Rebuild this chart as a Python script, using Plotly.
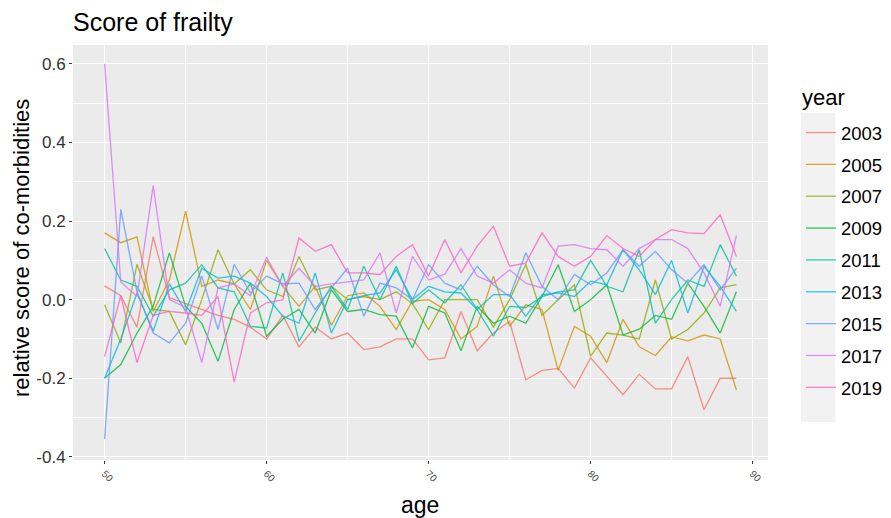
import plotly.graph_objects as go

ages = list(range(50, 90))
years = ["2003", "2005", "2007", "2009", "2011", "2013", "2015", "2017", "2019"]
colors = ["#F8766D", "#D39200", "#93AA00", "#00BA38", "#00C19F",
          "#00B9E3", "#619CFF", "#DB72FB", "#FF61C3"]

y2003 = [0.035, 0.01, -0.07, 0.16, 0.005, -0.01, -0.025, -0.04, -0.05, -0.07,
         -0.10, -0.04, -0.12, -0.07, -0.10, -0.085, -0.127, -0.12, -0.10, -0.10,
         -0.153, -0.148, -0.03, -0.13, -0.085, -0.055, -0.204, -0.18, -0.175, -0.225,
         -0.148, -0.195, -0.242, -0.19, -0.227, -0.227, -0.145, -0.28, -0.2, -0.2]
y2005 = [0.17, 0.145, 0.16, -0.03, 0.05, 0.225, 0.034, 0.05, 0.04, -0.025,
         0.10, 0.034, -0.017, 0.034, -0.065, 0.01, 0.017, -0.017, -0.076, -0.004,
         0.0, -0.025, -0.10, -0.068, 0.06, -0.068, -0.013, -0.025, -0.18, -0.068,
         -0.093, -0.16, -0.05, -0.12, -0.142, -0.095, -0.105, -0.09, -0.1, -0.23]
y2007 = [-0.013, -0.11, 0.09, -0.025, -0.03, -0.115, 0.0, 0.127, 0.04, 0.076,
         0.025, 0.008, 0.11, 0.025, 0.034, 0.0, 0.008, 0.0, 0.02, -0.01,
         -0.076, 0.0, 0.0, 0.0, -0.07, 0.0, 0.09, -0.04, 0.0, 0.038,
         -0.144, -0.085, -0.09, -0.10, 0.05, -0.1, -0.076, -0.034, 0.03, 0.038]
y2009 = [-0.2, -0.165, -0.085, -0.017, 0.119, -0.017, -0.06, -0.157, -0.025, 0.042,
         -0.093, -0.05, -0.025, -0.085, 0.025, -0.03, -0.025, -0.038, -0.042, -0.123,
         -0.017, -0.034, -0.13, -0.017, -0.06, -0.042, -0.06, 0.008, 0.089, -0.03,
         0.0, 0.038, -0.09, -0.075, -0.04, -0.05, 0.042, -0.017, -0.085, 0.02]
y2011 = [0.13, 0.05, 0.034, -0.042, 0.025, 0.042, 0.089, 0.03, 0.02, -0.068,
         -0.072, 0.068, -0.106, -0.034, 0.034, -0.025, 0.085, 0.0, 0.085, -0.01,
         0.025, -0.008, 0.038, -0.025, -0.093, -0.017, -0.02, 0.008, 0.02, 0.025,
         0.1, 0.034, 0.02, 0.127, -0.06, 0.0, 0.05, 0.034, 0.14, 0.06]
y2013 = [-0.2, -0.1, 0.017, -0.08, 0.04, -0.03, 0.08, 0.055, 0.06, 0.042,
         0.008, -0.042, -0.06, 0.068, -0.085, 0.0, 0.01, 0.017, 0.076, 0.0,
         0.034, 0.02, 0.017, -0.025, 0.013, 0.013, -0.042, 0.013, 0.017, 0.008,
         0.047, 0.038, 0.127, 0.076, 0.013, 0.1, -0.034, 0.085, 0.034, -0.03]
y2015 = [-0.355, 0.23, 0.02, -0.085, -0.11, -0.06, 0.06, -0.076, 0.09, 0.017,
         0.06, 0.04, 0.042, -0.025, 0.03, 0.08, -0.042, 0.042, 0.03, 0.0,
         0.089, 0.042, 0.025, 0.085, 0.038, 0.008, 0.119, 0.034, 0.0, 0.064,
         0.038, 0.068, 0.127, 0.085, 0.123, 0.076, 0.042, 0.089, 0.025, 0.08]
y2017 = [0.6, 0.045, 0.008, 0.29, 0.0, -0.02, -0.16, 0.03, 0.04, 0.01,
         0.108, 0.034, 0.08, 0.034, 0.04, 0.045, 0.05, 0.119, -0.034, 0.11,
         0.05, 0.065, 0.13, 0.06, 0.042, 0.076, 0.042, 0.03, 0.136, 0.14,
         0.13, 0.127, 0.085, 0.13, 0.153, 0.153, 0.13, 0.068, -0.017, 0.163]
y2019 = [-0.145, 0.01, -0.16, -0.04, -0.03, -0.034, -0.04, 0.008, -0.21, -0.034,
         -0.008, 0.0, 0.157, 0.123, 0.14, 0.068, 0.068, 0.064, 0.11, 0.14,
         0.06, 0.153, 0.068, 0.136, 0.187, 0.085, 0.093, 0.17, 0.11, 0.085,
         0.11, 0.163, 0.13, 0.11, 0.153, 0.178, 0.17, 0.168, 0.216, 0.11]

series = [y2003, y2005, y2007, y2009, y2011, y2013, y2015, y2017, y2019]

x_tickvals = [50, 60, 70, 80, 90]
x_ticktext = ["50", "60", "70", "80", "90"]
y_tickvals = [-0.4, -0.2, 0.0, 0.2, 0.4, 0.6]
y_ticktext = ["-0.4", "-0.2", "0.0", "0.2", "0.4", "0.6"]

FONT = "Liberation Sans, Arial, sans-serif"
# page body has an 8px margin; figure coordinates = screen - 8
W, H = 883, 510
L, R, T, B = 65, 760, 37, 452
PW, PH = R - L, B - T


def px(sx):
    return (sx - 8 - L) / PW


def py(sy):
    return (B - (sy - 8)) / PH


fig = go.Figure()
for yr, col, vals in zip(years, colors, series):
    fig.add_trace(go.Scatter(
        x=ages, y=vals, mode="lines", name=yr, legendgroup=yr,
        line=dict(color=col, width=1.3), opacity=0.8,
    ))

fig.update_layout(
    width=W, height=H,
    margin=dict(l=L, r=W - R, t=T, b=H - B, autoexpand=False),
    paper_bgcolor="white",
    plot_bgcolor="#EBEBEB",
    font=dict(family=FONT, color="#1a1a1a"),
    title=dict(text="Score of frailty", x=L / W, xanchor="left",
               y=1 - 14 / H, yanchor="middle",
               font=dict(size=25, color="black", family=FONT)),
    xaxis=dict(
        range=[48.05, 90.95], tickvals=x_tickvals, ticktext=x_ticktext,
        tickangle=45, tickfont=dict(size=10, color="#4d4d4d"),
        ticks="outside", ticklen=3, tickcolor="#333333",
        showgrid=True, gridcolor="white", gridwidth=1.2, zeroline=False,
        minor=dict(dtick=5, tick0=50, showgrid=True, gridcolor="white", gridwidth=0.6),
        showline=False, automargin=False,
    ),
    yaxis=dict(
        range=[-0.408, 0.648], tickvals=y_tickvals, ticktext=y_ticktext,
        tickfont=dict(size=17, color="#333333"),
        ticks="outside", ticklen=3, tickcolor="#333333",
        showgrid=True, gridcolor="white", gridwidth=1.2, zeroline=False,
        minor=dict(dtick=0.1, tick0=0, showgrid=True, gridcolor="white", gridwidth=0.6),
        showline=False, automargin=False,
    ),
    legend=dict(
        x=px(801), xanchor="left", y=py(114), yanchor="top",
        font=dict(size=18.5, color="black"),
        tracegroupgap=4.8, bgcolor="rgba(0,0,0,0)",
    ),
    annotations=[
        dict(text="age", xref="paper", yref="paper", x=px(420), y=py(505),
             xanchor="center", yanchor="middle", showarrow=False,
             font=dict(size=23, color="black")),
        dict(text="relative score of co-morbidities", xref="paper", yref="paper",
             x=px(21), y=py(248), textangle=-90,
             xanchor="center", yanchor="middle", showarrow=False,
             font=dict(size=22, color="black")),
        dict(text="year", xref="paper", yref="paper", x=px(800), y=py(97),
             xanchor="left", yanchor="middle", showarrow=False,
             font=dict(size=22, color="black")),
    ],
    shapes=[dict(type="rect", xref="paper", yref="paper",
                 x0=px(801), x1=px(835), y0=py(422), y1=py(113),
                 fillcolor="#F2F2F2", line=dict(width=0), layer="below")],
)

fig.write_html("out.html")
